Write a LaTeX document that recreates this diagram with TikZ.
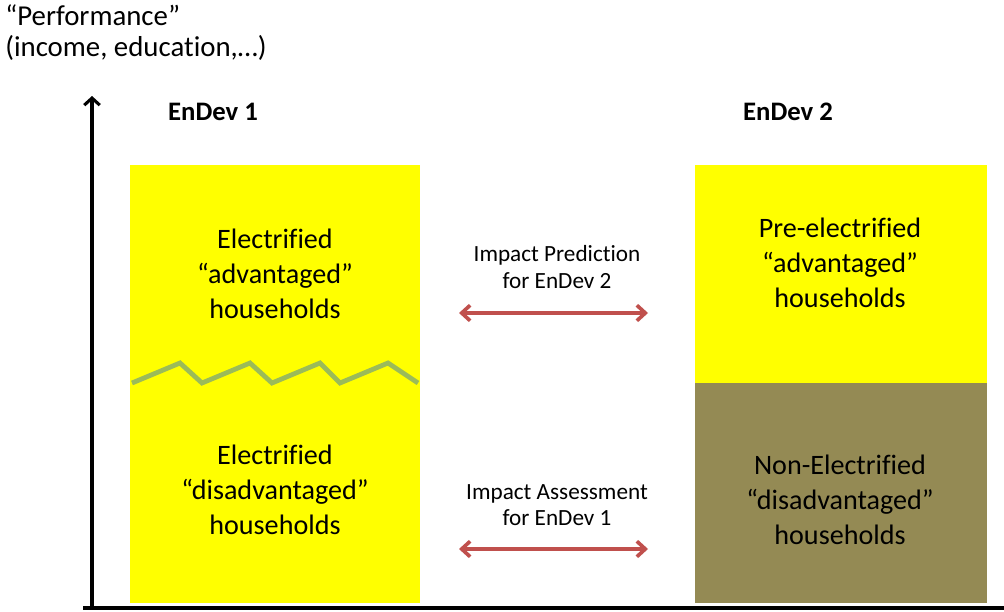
\documentclass[tikz,border=0pt]{standalone}
\usepackage{fontspec}
\setmainfont{Carlito}[Ligatures=NoCommon]
\usetikzlibrary{arrows.meta}

\definecolor{boxyellow}{HTML}{FFFF00}
\definecolor{boxolive}{HTML}{948A54}
\definecolor{zigzag}{HTML}{9BBB59}
\definecolor{impact}{HTML}{C0504D}

\begin{document}
\begin{tikzpicture}[x=0.025cm,y=-0.025cm,
    boxtext/.style={align=center,font=\fontsize{20}{25}\selectfont},
    impacttext/.style={align=center,font=\fontsize{16.5}{19}\selectfont},
    heading/.style={font=\fontsize{19}{22}\selectfont\bfseries},
    impactarrow/.style={impact,line width=2.6pt,{Straight Barb[length=6pt,width=11pt]}-{Straight Barb[length=6pt,width=11pt]}}]
  \useasboundingbox (0,0) rectangle (1004,611);
  % boxes
  \fill[boxyellow] (130,165) rectangle (420,603);
  \fill[boxyellow] (695,165) rectangle (987,383);
  \fill[boxolive]  (695,383) rectangle (987,603);
  \draw[zigzag,line width=3.4pt,line join=miter]
    (132,383) -- (180,363) -- (202,383) -- (250,363) -- (272,383)
    -- (320,363) -- (340,383) -- (388,363) -- (418,383);
  % axes
  \coordinate (origin) at (92,608);
  \coordinate (ytop) at (92,96);
  \coordinate (xend) at (1004,608);
  \draw[line width=2.2pt,-{Straight Barb[length=5pt,width=11pt]}] (origin) -- (ytop);
  \draw[line width=2.2pt] (83,608) -- (xend);
  \node[anchor=north west,align=left,font=\fontsize{20.5}{22.5}\selectfont,inner sep=0pt]
    (ylabel) at (5,4) {``Performance''\\(income, education,…)};
  \node[heading] (endev1) at (213,112) {EnDev 1};
  \node[heading] (endev2) at (788,112) {EnDev 2};
  % box texts
  \node[boxtext] (advl) at (275,274) {Electrified\\``advantaged''\\households};
  \node[boxtext] (disl) at (275,490) {Electrified\\``disadvantaged''\\households};
  \node[boxtext] (advr) at (840,263) {Pre-electrified\\``advantaged''\\households};
  \node[boxtext] (disr) at (840,500) {Non-Electrified\\``disadvantaged''\\households};
  % impact arrows
  \node[impacttext] (pred) at (557,267) {Impact Prediction\\for EnDev 2};
  \node[impacttext] (assm) at (557,505) {Impact Assessment\\for EnDev 1};
  \coordinate (predl) at (459,313);
  \coordinate (predr) at (648,313);
  \coordinate (assml) at (459,549);
  \coordinate (assmr) at (648,549);
  \draw[impactarrow] (predl) -- (predr);
  \draw[impactarrow] (assml) -- (assmr);
\end{tikzpicture}
\end{document}
